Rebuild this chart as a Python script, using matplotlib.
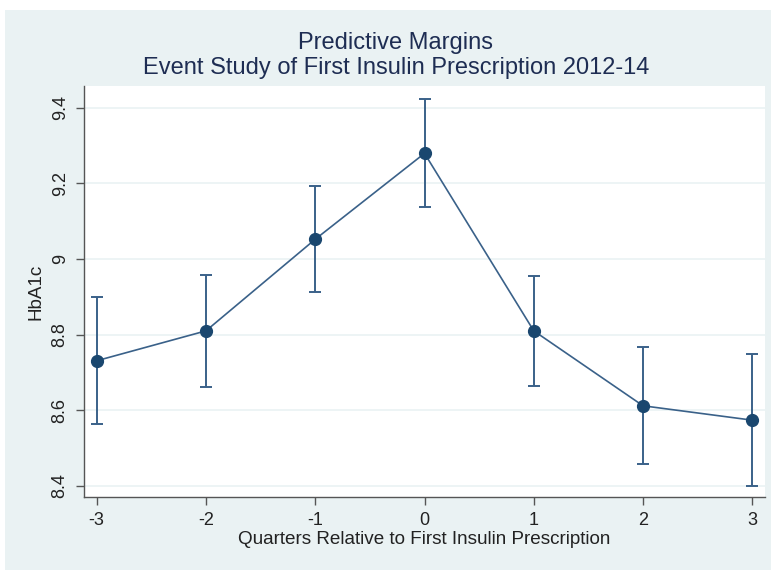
import numpy as np
import matplotlib.pyplot as plt
from matplotlib.patches import Rectangle

plt.rcParams['font.family'] = ['Liberation Sans', 'DejaVu Sans']

# quarters relative to first insulin prescription
quarters = [-3, -2, -1, 0, 1, 2, 3]
# predictive margins of HbA1c with 95% CI bounds
margin = [8.731, 8.810, 9.052, 9.279, 8.810, 8.612, 8.574]
ci_low = [8.564, 8.662, 8.912, 9.136, 8.665, 8.458, 8.400]
ci_high = [8.900, 8.958, 9.193, 9.423, 8.955, 8.767, 8.748]
yticks = [8.4, 8.6, 8.8, 9.0, 9.2, 9.4]
ytick_labels = ['8.4', '8.6', '8.8', '9', '9.2', '9.4']

navy = '#1a476f'
bg = '#eaf2f3'

fig = plt.figure(figsize=(7.71, 5.70), dpi=100)
fig.patch.set_facecolor('white')
# stata-style outer background
fig.patches.append(Rectangle((5 / 771, 0), 1, 1 - 10 / 570,
                             transform=fig.transFigure, facecolor=bg,
                             edgecolor='none', zorder=-10))

ax = fig.add_axes([84 / 771, 1 - 497 / 570, (765 - 84) / 771, (497 - 86) / 570])
ax.set_facecolor('white')

m = np.array(margin)
yerr = [m - np.array(ci_low), np.array(ci_high) - m]
ax.errorbar(quarters, margin, yerr=yerr, fmt='none', ecolor='#3a6189',
            elinewidth=1.4, capsize=4.5, capthick=1.4, zorder=2)
ax.plot(quarters, margin, color='#3a6189', linewidth=1.2, zorder=3)
ax.plot(quarters, margin, linestyle='', marker='o', markersize=8.5,
        color=navy, zorder=4)

ax.set_xlim(-3.116, 3.116)
ax.set_ylim(8.371, 9.457)
ax.set_xticks(quarters)
ax.set_xticklabels([str(q) for q in quarters], fontsize=13)
ax.set_yticks(yticks)
ax.set_yticklabels(ytick_labels, fontsize=13, rotation=90, va='center')
ax.grid(axis='y', color=bg, linewidth=1.2)
ax.set_axisbelow(True)

for side in ['top', 'right']:
    ax.spines[side].set_visible(False)
for side in ['left', 'bottom']:
    ax.spines[side].set_color('#555555')
    ax.spines[side].set_linewidth(1.0)
ax.tick_params(axis='both', direction='out', length=6, width=1.0,
               color='#555555', labelcolor='#222222', pad=5)

ax.set_xlabel('Quarters Relative to First Insulin Prescription',
              fontsize=13.6, color='#222222', labelpad=1)
ax.set_ylabel('HbA1c', fontsize=13.6, color='#222222', labelpad=5)

fig.text(396 / 771, 1 - 43 / 570, 'Predictive Margins', ha='center',
         va='center', fontsize=17, color='#1e2d53')
fig.text(396 / 771, 1 - 68 / 570,
         'Event Study of First Insulin Prescription 2012-14', ha='center',
         va='center', fontsize=17, color='#1e2d53')

fig.savefig('out.png', dpi=100, facecolor=fig.get_facecolor())
